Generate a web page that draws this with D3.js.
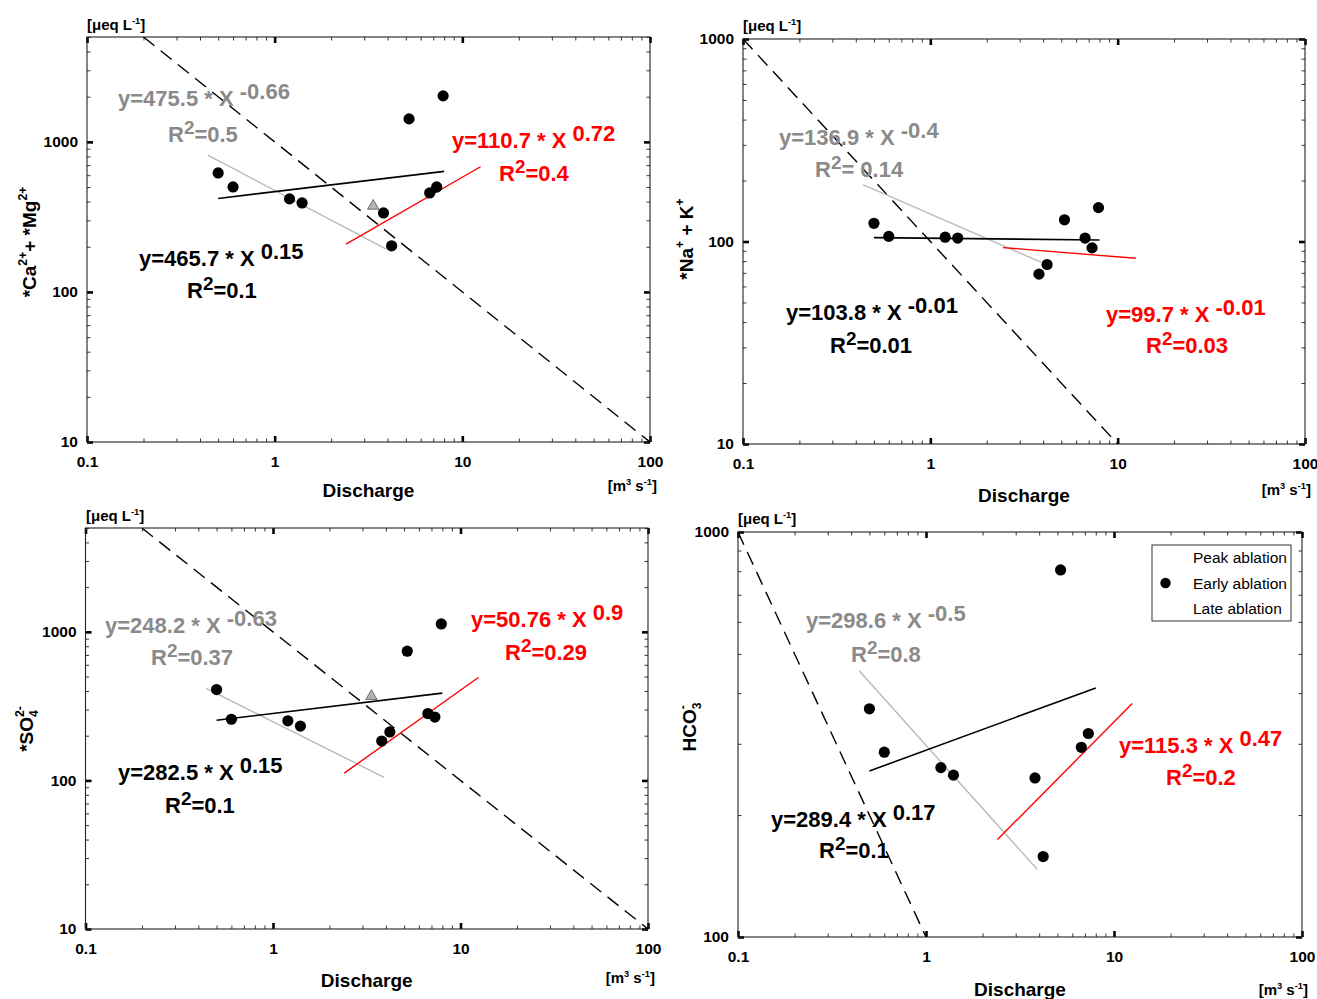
<!DOCTYPE html>
<html>
<head>
<meta charset="utf-8">
<script src="https://cdn.jsdelivr.net/npm/d3@7"></script>
<style>
  body { margin: 0; background: #fff; }
  svg { display: block; }
  text { white-space: pre; }
</style>
</head>
<body>
<script>
// discharge [m3 s-1] of the sampled days, shared by all panels
const discharge = [0.5, 0.6, 1.2, 1.4, 3.8, 4.2, 5.2, 6.7, 7.3, 7.9];
const peakDischarge = [3.35];

// concentrations [ueq L-1], one value per discharge
const caMg = [621, 501, 417, 392, 336, 203, 1423, 457, 501, 2027];
const naK = [123, 106, 105, 104, 69, 77, 128, 104, 93, 147];
const so4 = [409, 258, 252, 232, 184, 212, 741, 282, 267, 1130];
const hco3 = [366, 286, 262, 251, 247, 158, 806, 294, 318, null];
const caMgPeak = [374];
const so4Peak = [369];

// fitted lines as [x0, y0, x1, y1]; order: peak (grey), early (black), late (red)
const caMgFits = [[0.44, 817, 3.95, 192], [0.5, 420, 8, 636], [2.4, 208, 12.5, 683]];
const naKFits = [[0.437, 191, 3.9, 79], [0.5, 104.5, 8, 101.7], [2.44, 93.3, 12.5, 82.6]];
const so4Fits = [[0.44, 416, 3.91, 105], [0.5, 254, 8, 387], [2.4, 112, 12.5, 495]];
const hco3Fits = [[0.44, 455, 3.9, 147], [0.5, 257, 8, 412], [2.4, 174, 12.5, 377]];

// dashed dilution lines [x0, y0, x1, y1]
const caMgDilution = [0.2, 5000, 100, 10];
const naKDilution = [0.1, 1000, 10, 10];
const so4Dilution = [0.2, 5000, 100, 10];
const hco3Dilution = [0.1, 1000, 1, 100];

// equation texts: [base, exponent, R2]
const caMgEquations = [["y=475.5 * X ", "-0.66", "=0.5"], ["y=465.7 * X ", "0.15", "=0.1"], ["y=110.7 * X ", "0.72", "=0.4"]];
const naKEquations = [["y=136.9 * X ", "-0.4", "= 0.14"], ["y=103.8 * X ", "-0.01", "=0.01"], ["y=99.7 * X ", "-0.01", "=0.03"]];
const so4Equations = [["y=248.2 * X ", "-0.63", "=0.37"], ["y=282.5 * X ", "0.15", "=0.1"], ["y=50.76 * X ", "0.9", "=0.29"]];
const hco3Equations = [["y=298.6 * X ", "-0.5", "=0.8"], ["y=289.4 * X ", "0.17", "=0.1"], ["y=115.3 * X ", "0.47", "=0.2"]];

// axis titles as [text, kind]: 0 normal, 1 superscript, -1 subscript, 2 superscript over the subscript
const caMgTitle = [["*Ca", 0], ["2+", 1], ["+ *Mg", 0], ["2+", 1]];
const naKTitle = [["*Na", 0], ["+", 1], [" + K", 0], ["+", 1]];
const so4Title = [["*SO", 0], ["4", -1], ["2-", 2]];
const hco3Title = [["HCO", 0], ["3", -1], ["-", 2]];
const concUnit = [["[\u03bceq L", 0], ["-1", 1], ["]", 0]];
const flowUnit = [["[m", 0], ["3", 1], [" s", 0], ["-1", 1], ["]", 0]];

const xTickValues = [0.1, 1, 10, 100];
const xTickLabels = ["0.1", "1", "10", "100"];
const yTickValuesWide = [10, 100, 1000];
const yTickLabelsWide = ["10", "100", "1000"];
const yTickValuesNarrow = [100, 1000];
const yTickLabelsNarrow = ["100", "1000"];
const legendLabels = ["Peak ablation", "Early ablation", "Late ablation"];

const FONT = '"Liberation Sans", Arial, Helvetica, sans-serif';
const fitColors = ["#b9b9b9", "#000", "#ff0000"];
const textColors = ["#8a8a8a", "#000", "#ff0000"];

const panels = [
    { box: [87, 37, 650, 442], yDomain: [10, 5000], yTicks: yTickValuesWide, yLabels: yTickLabelsWide,
      values: caMg, peak: caMgPeak, fits: caMgFits, dilution: caMgDilution, equations: caMgEquations,
      eqPos: [[118, 106, 168, 142], [139, 266, 187, 298], [452, 148, 499, 181]],
      title: caMgTitle, titlePos: [36, 242], unitPos: [87, 30], flowPos: [657, 491], discharge: 497 },
    { box: [743, 39, 1305, 444], yDomain: [10, 1000], yTicks: yTickValuesWide, yLabels: yTickLabelsWide,
      values: naK, peak: [], fits: naKFits, dilution: naKDilution, equations: naKEquations,
      eqPos: [[779, 145, 815, 177], [786, 320, 830, 353], [1106, 322, 1146, 353]],
      title: naKTitle, titlePos: [693, 239], unitPos: [743, 31], flowPos: [1311, 495], discharge: 502 },
    { box: [85.5, 528, 648, 929], yDomain: [10, 5000], yTicks: yTickValuesWide, yLabels: yTickLabelsWide,
      values: so4, peak: so4Peak, fits: so4Fits, dilution: so4Dilution, equations: so4Equations,
      eqPos: [[105, 633, 151, 665], [118, 780, 165, 813], [471, 627, 505, 660]],
      title: so4Title, titlePos: [33, 729], unitPos: [86, 521], flowPos: [655, 983], discharge: 987 },
    { box: [738, 532, 1302, 937], yDomain: [100, 1000], yTicks: yTickValuesNarrow, yLabels: yTickLabelsNarrow,
      values: hco3, peak: [], fits: hco3Fits, dilution: hco3Dilution, equations: hco3Equations,
      eqPos: [[806, 628, 851, 662], [771, 827, 819, 858], [1119, 753, 1166, 785]],
      title: hco3Title, titlePos: [696, 727], unitPos: [738, 524], flowPos: [1308, 995], discharge: 996,
      legend: [1152, 545, 1291, 621] }
];

const svg = d3.select("body").append("svg")
    .attr("width", 1317)
    .attr("height", 999)
    .style("font-family", FONT);

svg.append("rect").attr("width", 1317).attr("height", 999).attr("fill", "#fff");

// text with super/subscripts built from segments
function rich(text, segs, size, ratio, rise) {
    let cur = 0, prevW = 0;
    segs.forEach(([s, k]) => {
        const fs = k === 0 ? size : size * ratio;
        const off = (k === 1 || k === 2) ? -size * rise : (k === -1 ? size * 0.28 : 0);
        const t = text.append("tspan").attr("font-size", fs).attr("dy", off - cur).text(s);
        if (k === 2) t.attr("dx", -prevW);
        prevW = s.length * fs * 0.56;
        cur = off;
    });
}

const isDecade = d => Math.abs(Math.log10(d) - Math.round(Math.log10(d))) < 1e-9;

panels.forEach((p, pi) => {
    const [x0, y0, x1, y1] = p.box;
    const g = svg.append("g").attr("class", "panel");

    const x = d3.scaleLog().domain([0.1, 100]).range([x0, x1]);
    const y = d3.scaleLog().domain(p.yDomain).range([y1, y0]);

    const clipId = "clip" + pi;
    g.append("clipPath").attr("id", clipId)
        .append("rect").attr("x", x0).attr("y", y0).attr("width", x1 - x0).attr("height", y1 - y0);

    // minor and major ticks on all four sides, pointing inwards
    const xMinor = x.ticks().filter(d => !isDecade(d));
    const yMinor = y.ticks().filter(d => !isDecade(d));
    const sides = [
        [d3.axisBottom, x, `translate(0,${y1})`, xMinor],
        [d3.axisTop, x, `translate(0,${y0})`, xMinor],
        [d3.axisLeft, y, `translate(${x0},0)`, yMinor],
        [d3.axisRight, y, `translate(${x1},0)`, yMinor]
    ];
    sides.forEach(([axisFn, sc, tr, minor], si) => {
        const majors = si < 2 ? xTickValues : p.yTicks;
        g.append("g").attr("transform", tr)
            .call(axisFn(sc).tickValues(minor).tickSizeInner(-3.5).tickSizeOuter(0).tickFormat(""))
            .call(a => a.select(".domain").remove())
            .selectAll("line").attr("stroke", "#333").attr("stroke-width", 1);

        const labels = si === 0 ? xTickLabels : (si === 2 ? p.yLabels : null);
        const ax = axisFn(sc).tickValues(majors).tickSizeInner(-6).tickSizeOuter(0)
            .tickPadding(si === 0 ? 13.5 : 9)
            .tickFormat((d, i) => labels ? labels[i] : "");
        const ag = g.append("g").attr("transform", tr).call(ax);
        ag.select(".domain").remove();
        ag.selectAll("line").attr("stroke", "#000").attr("stroke-width", 2.6);
        ag.selectAll("text").attr("font-size", 15.5).attr("font-weight", "bold")
            .attr("font-family", FONT).attr("fill", "#000");
    });

    g.append("rect")
        .attr("x", x0).attr("y", y0).attr("width", x1 - x0).attr("height", y1 - y0)
        .attr("fill", "none").attr("stroke", "#222").attr("stroke-width", 1.1);

    const line = d3.line().x(d => x(d[0])).y(d => y(d[1]));
    const plot = g.append("g").attr("clip-path", `url(#${clipId})`);

    // dilution line
    const dl = p.dilution;
    plot.append("path")
        .attr("d", line([[dl[0], dl[1]], [dl[2], dl[3]]]))
        .attr("fill", "none").attr("stroke", "#000")
        .attr("stroke-width", 1.4).attr("stroke-dasharray", "14,8");

    // fitted lines
    plot.selectAll(".fit").data(p.fits).enter().append("path")
        .attr("class", "fit")
        .attr("d", f => line([[f[0], f[1]], [f[2], f[3]]]))
        .attr("fill", "none")
        .attr("stroke", (f, i) => fitColors[i])
        .attr("stroke-width", (f, i) => i === 1 ? 1.6 : 1.4);

    // peak ablation sample
    plot.selectAll(".peak").data(p.peak).enter().append("path")
        .attr("class", "peak")
        .attr("transform", (v, i) => `translate(${x(peakDischarge[i])},${y(v)})`)
        .attr("d", d3.symbol(d3.symbolTriangle).size(55))
        .attr("fill", "#b3b3b3").attr("stroke", "#555").attr("stroke-width", 0.8);

    // early ablation samples
    const pts = discharge.map((q, i) => [q, p.values[i]]).filter(d => d[1] != null);
    plot.selectAll(".pt").data(pts).enter().append("circle")
        .attr("class", "pt")
        .attr("cx", d => x(d[0])).attr("cy", d => y(d[1]))
        .attr("r", 5.6).attr("fill", "#000");

    // equations
    p.equations.forEach((e, i) => {
        const pos = p.eqPos[i];
        const t1 = g.append("text").attr("x", pos[0]).attr("y", pos[1])
            .attr("font-weight", "bold").attr("fill", textColors[i]);
        rich(t1, [[e[0], 0], [e[1], 1]], 22, 1, 0.32);
        const t2 = g.append("text").attr("x", pos[2]).attr("y", pos[3])
            .attr("font-weight", "bold").attr("fill", textColors[i]);
        rich(t2, [["R", 0], ["2", 1], [e[2], 0]], 22, 0.86, 0.36);
    });

    // axis titles and units
    const yt = g.append("text")
        .attr("transform", `translate(${p.titlePos[0]},${p.titlePos[1]}) rotate(-90)`)
        .attr("text-anchor", "middle").attr("font-weight", "bold").attr("fill", "#000");
    rich(yt, p.title, 19, 0.64, 0.45);

    const ut = g.append("text").attr("x", p.unitPos[0]).attr("y", p.unitPos[1])
        .attr("font-weight", "bold").attr("fill", "#000");
    rich(ut, concUnit, 15, 0.62, 0.42);

    const ft = g.append("text").attr("x", p.flowPos[0]).attr("y", p.flowPos[1])
        .attr("text-anchor", "end").attr("font-weight", "bold").attr("fill", "#000");
    rich(ft, flowUnit, 15, 0.62, 0.42);

    g.append("text")
        .attr("x", (x0 + x1) / 2).attr("y", p.discharge)
        .attr("text-anchor", "middle").attr("font-weight", "bold")
        .attr("font-size", 19).attr("fill", "#000")
        .text("Discharge");

    if (p.legend) {
        const [lx0, ly0, lx1, ly1] = p.legend;
        const lg = g.append("g");
        lg.append("rect")
            .attr("x", lx0).attr("y", ly0).attr("width", lx1 - lx0).attr("height", ly1 - ly0)
            .attr("fill", "#fff").attr("stroke", "#333").attr("stroke-width", 1);
        const rowH = (ly1 - ly0) / legendLabels.length;
        legendLabels.forEach((lab, i) => {
            const cy = ly0 + rowH * (i + 0.5);
            lg.append("text")
                .attr("x", lx0 + 41).attr("y", cy + 5.5)
                .attr("font-size", 15.5).attr("fill", "#000")
                .text(lab);
            if (i === 1) {
                lg.append("circle").attr("cx", lx0 + 13.5).attr("cy", cy).attr("r", 5.2).attr("fill", "#000");
            }
        });
    }
});
</script>
</body>
</html>
